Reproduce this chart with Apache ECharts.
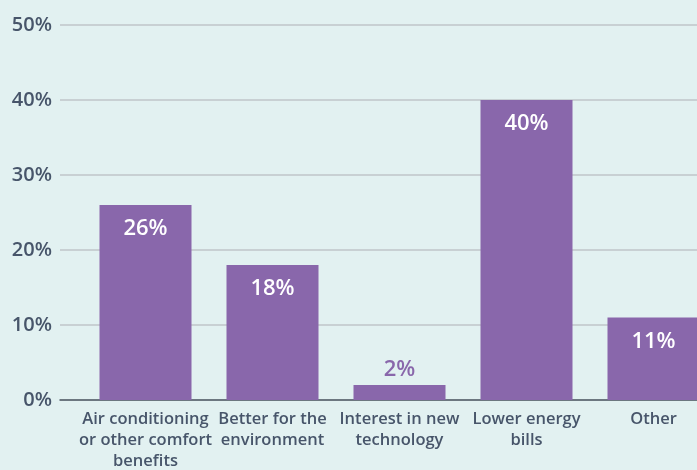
<!DOCTYPE html>
<html>
<head>
<meta charset="utf-8">
<script src="https://cdn.jsdelivr.net/npm/echarts@6/dist/echarts.min.js"></script>
<style>
  * { margin: 0; padding: 0; }
  html, body { background: #e2f1f1; }
  #main { width: 697px; height: 470px; }
</style>
</head>
<body>
<div id="main"></div>
<script>
// data
var categories = [
  "Air conditioning\nor other comfort\nbenefits",
  "Better for the\nenvironment",
  "Interest in new\ntechnology",
  "Lower energy\nbills",
  "Other"
];
var values = [26, 18, 2, 40, 11];
var yTicks = [0, 10, 20, 30, 40, 50];

var purple = "#8967ab";
var textColor = "#47556a";
var font = "Open Sans";

var chart = echarts.init(document.getElementById("main"));

chart.setOption({
  backgroundColor: "#e2f1f1",
  animation: false,
  grid: [
    // grid 0 carries the y axis and the gridlines
    { left: 60, top: 25, width: 637, bottom: 70, outerBoundsMode: "none" },
    // grid 1 carries the bars (slightly shifted so bars line up)
    { left: 82, top: 25, width: 635, bottom: 70, outerBoundsMode: "none" }
  ],
  xAxis: [
    {
      gridIndex: 0,
      type: "category",
      data: categories,
      axisLine: { show: true, lineStyle: { color: "#4e5a66", width: 1.5 } },
      axisTick: { show: false },
      axisLabel: { show: false }
    },
    {
      gridIndex: 1,
      type: "category",
      data: categories,
      axisLine: { show: false },
      axisTick: { show: false },
      axisLabel: {
        color: textColor,
        fontFamily: font,
        fontSize: 16.5,
        fontWeight: 600,
        lineHeight: 21,
        margin: 9,
        interval: 0
      }
    }
  ],
  yAxis: [
    {
      gridIndex: 0,
      type: "value",
      min: yTicks[0],
      max: yTicks[yTicks.length - 1],
      interval: 10,
      axisLine: { show: false },
      axisTick: { show: false },
      splitLine: { lineStyle: { color: "#bfc4c8", width: 1.5 } },
      axisLabel: {
        formatter: "{value}%",
        color: textColor,
        fontFamily: font,
        fontSize: 20,
        fontWeight: 600,
        margin: 8
      }
    },
    {
      gridIndex: 1,
      type: "value",
      min: yTicks[0],
      max: yTicks[yTicks.length - 1],
      show: false,
      splitLine: { show: false }
    }
  ],
  series: [
    {
      type: "bar",
      xAxisIndex: 1,
      yAxisIndex: 1,
      barWidth: 92,
      itemStyle: { color: purple },
      label: {
        show: true,
        position: "insideTop",
        distance: 13,
        formatter: "{c}%",
        color: "#ffffff",
        fontFamily: font,
        fontSize: 22,
        fontWeight: 600
      },
      data: values.map(function (v) {
        if (v < 5) {
          return {
            value: v,
            label: { position: "top", distance: 4, color: purple }
          };
        }
        return v;
      })
    }
  ]
});
</script>
</body>
</html>
